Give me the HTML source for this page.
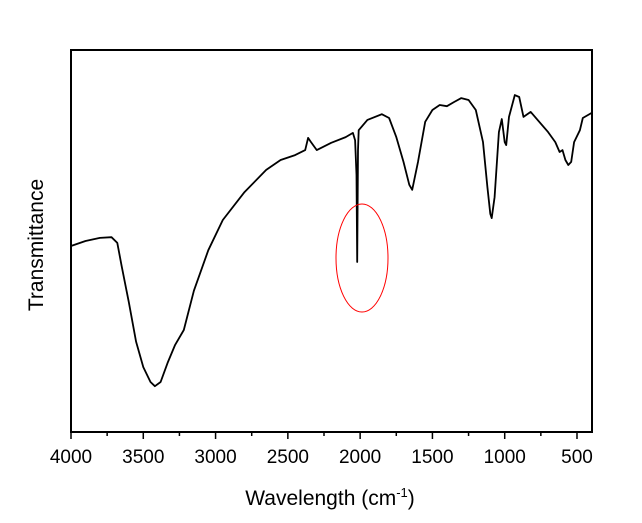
<!DOCTYPE html>
<html><head><meta charset="utf-8"><style>
body{margin:0;background:#fff}
text{font-family:"Liberation Sans",Arial,sans-serif;fill:#000}
</style></head><body>
<svg id="chart" width="642" height="518" viewBox="0 0 642 518" xmlns="http://www.w3.org/2000/svg">
<rect x="71" y="50" width="521" height="382" fill="none" stroke="#000" stroke-width="2"/>
<g id="ticks"></g>
<g id="labels" font-size="19"></g>
<path id="curve" fill="none" stroke="#000" stroke-width="1.8" stroke-linejoin="round"/>
<ellipse cx="362" cy="258" rx="26" ry="54" fill="none" stroke="#f00" stroke-width="1"/>
<text x="43" y="245" font-size="21" text-anchor="middle" transform="rotate(-90 43 245)">Transmittance</text>
<text x="330" y="505" font-size="21" text-anchor="middle">Wavelength (cm<tspan font-size="13" dy="-8">-1</tspan><tspan dy="8">)</tspan></text>
</svg>
<script>
const tickValues=[4000,3500,3000,2500,2000,1500,1000,500];
const tickLabels=["4000","3500","3000","2500","2000","1500","1000","500"];
const wavenumbers=[4000,3900,3800,3720,3680,3650,3600,3550,3500,3450,3420,3380,3330,3280,3220,3150,3050,2950,2800,2650,2550,2450,2380,2360,2340,2300,2200,2100,2050,2035,2025,2020,2015,2010,1950,1850,1800,1750,1700,1660,1640,1600,1550,1500,1450,1400,1350,1300,1250,1200,1150,1120,1100,1090,1070,1040,1020,1000,990,970,930,900,870,820,700,650,620,600,580,560,540,520,480,460,400];
const transmittance=[48.7,50,50.8,51,49.5,43.5,34,23.6,17,13.1,12,13.1,18.3,22.8,26.7,37,47.6,55.5,62.8,68.6,71.2,72.5,73.8,77,75.9,73.8,75.7,77.2,78.3,76.4,67.3,44.5,73.8,79,81.7,83.2,82.2,77.2,70.7,64.7,63.4,70.7,81.2,84.3,85.6,85.3,86.4,87.4,86.9,84.3,75.9,64.1,57.1,56,61.5,78.5,81.9,75.9,75.1,82.5,88.2,87.7,82.5,83.8,78.5,75.9,73.3,73.8,71.2,69.9,70.7,75.9,79,82.2,83.5];
const xS=v=>71+(4000-v)*0.14457;
const yS=v=>432-v*3.82;
const NS="http://www.w3.org/2000/svg";
const tg=document.getElementById('ticks'),lg=document.getElementById('labels');
for(let v=4000;v>=400;v-=250){
  const l=document.createElementNS(NS,'line');
  
  
  const major=v%500===0;
  l.setAttribute('x1',xS(v));l.setAttribute('x2',xS(v));
  l.setAttribute('y1',432);l.setAttribute('y2',major?439:436);
  l.setAttribute('stroke','#000');l.setAttribute('stroke-width','1.5');
  tg.appendChild(l);
}
tickValues.forEach((v,i)=>{
  const t=document.createElementNS(NS,'text');
  
  
  t.setAttribute('x',xS(v));t.setAttribute('y',463);t.setAttribute('text-anchor','middle');
  t.textContent=tickLabels[i];lg.appendChild(t);
});
document.getElementById('curve').setAttribute('d',wavenumbers.map((w,i)=>(i?'L':'M')+xS(w).toFixed(1)+','+yS(transmittance[i]).toFixed(1)).join(''));
</script>
</body></html>
